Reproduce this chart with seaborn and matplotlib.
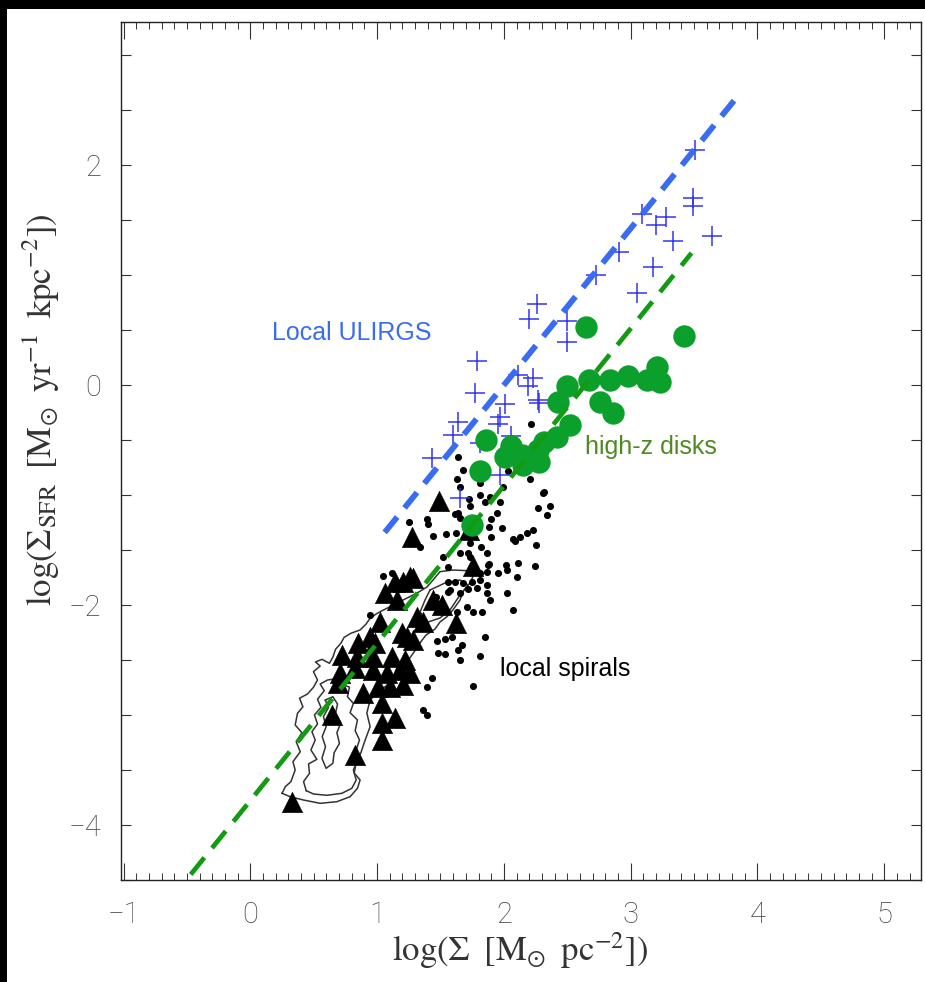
import numpy as np
import pandas as pd
import matplotlib
matplotlib.use("Agg")
import matplotlib.pyplot as plt
from matplotlib.patches import Rectangle
from matplotlib.ticker import MultipleLocator
import seaborn as sns

# local ULIRGs (blue crosses)
ulirg_x = [3.51, 3.49, 3.49, 3.09, 3.28, 3.20, 3.33, 3.64, 2.91, 3.18, 2.73, 3.05, 2.50,
           2.26, 2.20, 2.50, 1.79, 1.77, 2.11, 2.23, 2.19, 2.27, 2.01, 1.97, 1.95, 1.64,
           1.60, 1.81, 2.06, 1.43, 1.97, 2.28, 1.65]
ulirg_y = [2.14, 1.70, 1.63, 1.55, 1.53, 1.45, 1.31, 1.35, 1.21, 1.07, 1.00, 0.84, 0.58,
           0.74, 0.60, 0.39, 0.22, -0.07, 0.09, 0.06, -0.01, -0.14, -0.17, -0.29, -0.35, -0.34,
           -0.45, -0.53, -0.46, -0.66, -0.82, -0.16, -1.03]

# high-z disks (green circles)
disk_x = [2.65, 3.42, 3.21, 3.13, 3.23, 2.98, 2.84, 2.67, 2.50, 2.43, 2.76, 2.86, 2.52,
          2.42, 2.32, 1.86, 1.81, 2.06, 2.01, 2.14, 2.15, 2.27, 2.28, 1.75]
disk_y = [0.53, 0.45, 0.16, 0.05, 0.03, 0.08, 0.05, 0.05, -0.01, -0.15, -0.15, -0.25, -0.36,
          -0.47, -0.52, -0.50, -0.78, -0.55, -0.65, -0.64, -0.73, -0.59, -0.70, -1.27]

# local spirals, galaxy averages (triangles)
spiral_x = [1.488, 1.276, 1.756, 1.622, 1.724, 1.260, 1.063, 1.205, 1.283, 1.157, 1.441, 1.512,
            1.315, 1.024, 1.362, 1.197, 1.283, 0.850, 0.984, 0.724, 0.843, 0.969, 1.118, 1.220,
            0.709, 0.827, 0.969, 1.079, 1.181, 1.260, 0.693, 0.890, 1.008, 1.102, 1.205, 1.039,
            0.646, 1.142, 1.039, 1.039, 0.827, 0.331, 0.945, 1.236, 1.142]
spiral_y = [-1.055, -1.382, -1.645, -2.164, -1.318, -1.745, -1.891, -1.791, -1.755, -1.955, -1.955, -2.000,
            -2.109, -2.155, -2.155, -2.255, -2.318, -2.345, -2.345, -2.455, -2.473, -2.473, -2.473, -2.500,
            -2.618, -2.573, -2.591, -2.618, -2.591, -2.618, -2.709, -2.800, -2.745, -2.745, -2.727, -2.891,
            -3.000, -3.027, -3.073, -3.227, -3.364, -3.791, -2.291, -2.291, -1.791]

# local spirals, sub-galactic regions (small dots)
region_x = [2.213, 1.638, 2.031, 2.205, 1.630, 1.811, 1.992, 2.315, 1.811, 1.890, 1.732, 1.850,
            1.969, 2.268, 2.362, 2.339, 1.614, 1.654, 1.945, 1.898, 1.882, 1.984, 1.394, 1.402,
            1.252, 1.441, 1.543, 1.622, 1.732, 1.819, 1.898, 2.087, 2.126, 2.181, 2.252, 1.866,
            1.520, 1.654, 1.717, 1.882, 2.016, 2.024, 2.110, 2.244, 1.866, 1.811, 2.102, 1.559,
            1.614, 1.677, 1.748, 1.811, 1.559, 1.654, 1.717, 1.787, 2.024, 1.953, 1.874, 1.732,
            1.559, 1.047, 1.118, 1.575, 1.866, 1.866, 1.890, 1.709, 1.756, 1.827, 2.071, 1.630,
            1.850, 1.472, 1.535, 1.591, 1.669, 1.480, 1.535, 1.638, 1.654, 1.811, 1.433, 1.394,
            1.756, 0.945, 2.307, 2.228, 2.071, 1.394, 1.362, 1.339, 1.638, 1.654, 1.724, 1.465,
            1.504, 1.677]
region_y = [-0.355, -0.655, -0.782, -0.855, -0.855, -0.891, -0.927, -0.973, -1.000, -1.018, -1.100, -1.064,
            -1.064, -1.118, -1.100, -1.182, -1.173, -1.209, -1.164, -1.218, -1.291, -1.300, -1.218, -1.264,
            -1.245, -1.373, -1.355, -1.345, -1.436, -1.473, -1.382, -1.418, -1.382, -1.345, -1.455, -1.527,
            -1.564, -1.527, -1.527, -1.627, -1.636, -1.682, -1.618, -1.645, -1.700, -1.709, -1.745, -1.791,
            -1.791, -1.800, -1.791, -1.773, -1.882, -1.891, -1.855, -1.845, -1.891, -1.709, -1.636, -1.564,
            -1.655, -1.736, -1.709, -1.864, -1.818, -1.891, -1.955, -2.018, -2.064, -2.064, -2.045, -2.064,
            -2.291, -2.327, -2.309, -2.291, -2.364, -2.436, -2.445, -2.409, -2.500, -2.464, -2.664, -2.745,
            -2.736, -2.091, -0.982, -1.318, -1.400, -3.000, -2.955, -1.473, -1.164, -0.927, -1.036, -1.927,
            -1.982, -0.773]

# pixel-by-pixel density contours of local spirals
outer_x = [0.250, 0.276, 0.320, 0.354, 0.336, 0.394, 0.362, 0.407, 0.354, 0.372, 0.415, 0.388,
           0.451, 0.498, 0.530, 0.498, 0.551, 0.514, 0.565, 0.624, 0.651, 0.672, 0.714, 0.740,
           0.793, 0.866, 0.913, 0.945, 0.992, 1.024, 1.102, 1.205, 1.315, 1.394, 1.441, 1.496,
           1.598, 1.709, 1.756, 1.732, 1.677, 1.654, 1.598, 1.551, 1.496, 1.457, 1.386, 1.339,
           1.313, 1.220, 1.142, 1.024, 0.945, 0.919, 0.945, 0.906, 0.872, 0.835, 0.819, 0.866,
           0.845, 0.787, 0.683, 0.551, 0.420, 0.315, 0.250]
outer_y = [-3.712, -3.652, -3.606, -3.500, -3.425, -3.334, -3.243, -3.161, -3.091, -2.985, -2.925, -2.848,
           -2.809, -2.748, -2.682, -2.606, -2.555, -2.518, -2.494, -2.530, -2.475, -2.403, -2.348, -2.294,
           -2.257, -2.227, -2.173, -2.121, -2.082, -2.061, -2.015, -1.955, -1.891, -1.836, -1.773, -1.697,
           -1.682, -1.688, -1.743, -1.800, -1.879, -1.955, -2.045, -2.106, -2.155, -2.218, -2.273, -2.343,
           -2.391, -2.545, -2.682, -2.773, -2.864, -2.982, -3.106, -3.227, -3.343, -3.436, -3.527, -3.591,
           -3.666, -3.743, -3.788, -3.803, -3.773, -3.743, -3.712]
middle_x = [0.441, 0.420, 0.467, 0.459, 0.525, 0.478, 0.512, 0.486, 0.530, 0.506, 0.557, 0.530,
            0.583, 0.551, 0.609, 0.677, 0.722, 0.782, 0.766, 0.813, 0.787, 0.845, 0.827, 0.861,
            0.835, 0.845, 0.813, 0.835, 0.801, 0.722, 0.604, 0.498, 0.441]
middle_y = [-3.688, -3.606, -3.530, -3.445, -3.403, -3.318, -3.227, -3.152, -3.082, -3.000, -2.930, -2.857,
            -2.779, -2.718, -2.682, -2.670, -2.718, -2.748, -2.834, -2.894, -2.979, -3.045, -3.143, -3.227,
            -3.318, -3.409, -3.500, -3.591, -3.666, -3.712, -3.730, -3.718, -3.688]
island_x = [1.417, 1.535, 1.654, 1.717, 1.638, 1.575, 1.496, 1.402, 1.339, 1.378, 1.417]
island_y = [-1.864, -1.800, -1.773, -1.818, -1.936, -2.045, -2.118, -2.155, -2.064, -1.955, -1.864]
inner_x = [0.591, 0.651, 0.688, 0.672, 0.714, 0.683, 0.703, 0.661, 0.651, 0.598, 0.565, 0.593,
           0.567, 0.598, 0.577, 0.617, 0.591]
inner_y = [-2.864, -2.834, -2.900, -2.985, -3.070, -3.161, -3.258, -3.343, -3.439, -3.485, -3.394, -3.288,
           -3.197, -3.106, -3.015, -2.930, -2.864]

# Kennicutt-Schmidt style fits (end points)
fit_ulirg_x = [1.06, 3.84]
fit_ulirg_y = [-1.34, 2.62]
fit_disk_x = [-0.47, 3.48]
fit_disk_y = [-4.45, 1.20]

sns.set_style("ticks")
plt.rcParams["mathtext.fontset"] = "stix"

fig = plt.figure(figsize=(9.25, 9.82), dpi=100, facecolor="black")
fig.patches.append(Rectangle((7 / 925, 0), 1, 973 / 982, transform=fig.transFigure,
                             facecolor="white", edgecolor="none", zorder=-10))
ax = fig.add_axes([121 / 925, 102 / 982, 800 / 925, 858 / 982])
ax.set_facecolor("white")

# contours
for cx, cy in [(outer_x, outer_y), (middle_x, middle_y), (island_x, island_y), (inner_x, inner_y)]:
    sns.lineplot(x=cx, y=cy, sort=False, estimator=None, color="#333333", lw=1.1, ax=ax, zorder=1)

sns.scatterplot(x=region_x, y=region_y, color="black", s=26, linewidth=0, ax=ax, zorder=2)
sns.scatterplot(x=spiral_x, y=spiral_y, color="black", marker="^", s=215, linewidth=0.4,
                edgecolor="black", ax=ax, zorder=3)
sns.scatterplot(x=ulirg_x, y=ulirg_y, color="#3434f0", marker="+", s=190, linewidth=1.1, ax=ax, zorder=4)
sns.scatterplot(x=disk_x, y=disk_y, color="#0ba02c", s=260, linewidth=0, ax=ax, zorder=5)

ax.plot(fit_ulirg_x, fit_ulirg_y, color="#3a6cf2", lw=4.2, dashes=(3.4, 2.0), zorder=6,
        dash_capstyle="butt")
ax.plot(fit_disk_x, fit_disk_y, color="#129a12", lw=3.4, dashes=(4.6, 2.6), zorder=6,
        dash_capstyle="butt")

ax.text(0.17, 0.47, "Local ULIRGS", color="#3a6cf2", fontsize=18, family="Liberation Sans",
        ha="left", va="center")
ax.text(2.64, -0.56, "high-z disks", color="#4e8a22", fontsize=18, family="Liberation Sans",
        ha="left", va="center")
ax.text(1.97, -2.58, "local spirals", color="black", fontsize=18, family="Liberation Sans",
        ha="left", va="center")

ax.set_xlim(-1.02, 5.29)
ax.set_ylim(-4.5, 3.3)
ax.xaxis.set_major_locator(MultipleLocator(1))
ax.xaxis.set_minor_locator(MultipleLocator(0.1))
ax.yaxis.set_major_locator(MultipleLocator(2))
ax.yaxis.set_minor_locator(MultipleLocator(0.5))
ax.tick_params(axis="x", which="major", direction="in", length=12, width=0.8, top=True, bottom=True,
               pad=15, labelsize=21, labelcolor="#444444", color="#333333")
ax.tick_params(axis="x", which="minor", direction="in", length=5, width=0.7, top=True, bottom=True,
               color="#333333")
ax.tick_params(axis="y", which="both", direction="in", length=7, width=0.8, left=True, right=True,
               pad=14, labelsize=21, labelcolor="#444444", color="#333333")
for lab in ax.get_xticklabels() + ax.get_yticklabels():
    lab.set_family("Roboto")
    lab.set_fontweight("light")
for s in ax.spines.values():
    s.set_color("#222222")
    s.set_linewidth(1.0)

ax.set_xlabel(r"$\mathrm{log}(\Sigma\;\;[\mathrm{M}_{\odot}\;\;\mathrm{pc}^{-2}])$", fontsize=25,
              color="#333333")
ax.set_ylabel(r"$\mathrm{log}(\Sigma_{\mathrm{SFR}}\;\;[\mathrm{M}_{\odot}\;\;\mathrm{yr}^{-1}\;\;\mathrm{kpc}^{-2}])$",
              fontsize=25, color="#333333")
ax.xaxis.set_label_coords(0.499, -0.058)
ax.yaxis.set_label_coords(-0.074, 0.548)

fig.savefig("out.png", dpi=100, facecolor=fig.get_facecolor())
